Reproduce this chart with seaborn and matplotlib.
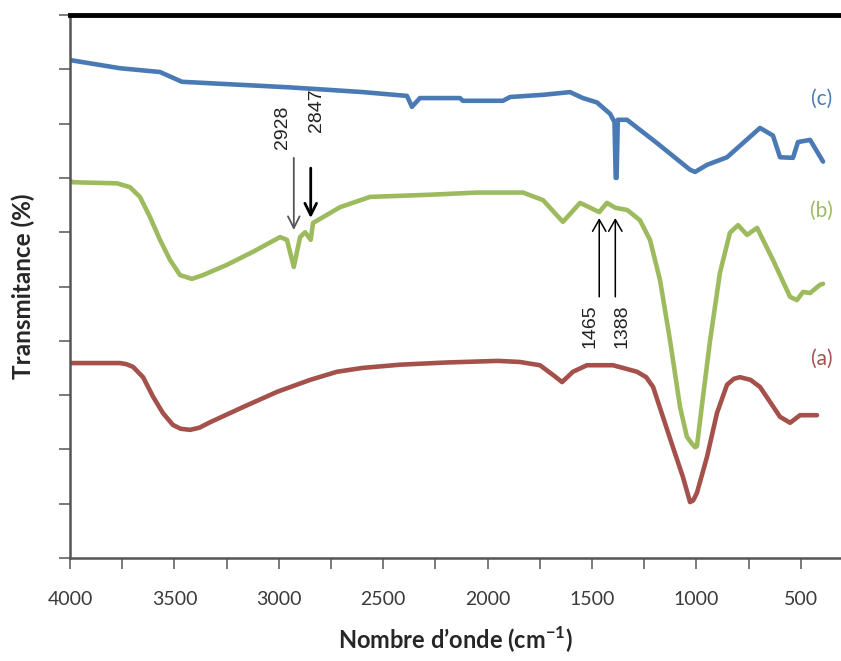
import matplotlib
matplotlib.use("Agg")
import matplotlib.pyplot as plt
import seaborn as sns

# FTIR spectra: wavenumber (cm-1) and transmittance (%), offset for display
wn_a = [4000, 3761, 3730, 3698, 3650, 3602, 3555, 3507, 3470, 3425, 3380, 3329,
        3171, 3008, 2850, 2721, 2600, 2419, 2200, 1950, 1845, 1749, 1686, 1643,
        1610, 1591, 1524, 1399, 1284, 1240, 1207, 1160, 1112, 1064, 1030, 1015,
        997, 949, 901, 853, 820, 791, 740, 695, 599, 551, 503, 422]
t_a = [35.9, 35.9, 35.7, 35.2, 33.3, 29.7, 26.7, 24.5, 23.8, 23.6, 24.0, 25.0,
       27.8, 30.6, 32.8, 34.3, 35.0, 35.6, 36.0, 36.3, 36.1, 35.5, 33.7, 32.4,
       33.6, 34.3, 35.5, 35.5, 34.3, 33.3, 31.5, 26.0, 20.4, 14.9, 10.3, 10.6,
       12.0, 18.6, 26.7, 31.9, 33.0, 33.3, 32.8, 31.5, 26.0, 24.9, 26.3, 26.3]

wn_b = [4000, 3986, 3775, 3713, 3665, 3617, 3569, 3521, 3473, 3416, 3363, 3248,
        3123, 2994, 2961, 2928, 2898, 2874, 2847, 2836, 2769, 2707, 2563, 2276,
        2050, 1830, 1734, 1639, 1557, 1465, 1428, 1388, 1332, 1318, 1270, 1222,
        1174, 1126, 1078, 1045, 1020, 1006, 997, 968, 934, 887, 839, 800, 757,
        709, 633, 551, 518, 489, 455, 408, 393]
t_b = [69.5, 69.2, 69.0, 68.3, 66.5, 62.8, 58.6, 54.9, 52.1, 51.4, 52.1, 54.0,
       56.4, 59.1, 58.6, 53.6, 59.1, 60.0, 58.6, 61.7, 63.2, 64.6, 66.5, 66.9,
       67.3, 67.3, 65.9, 61.9, 65.4, 63.7, 65.4, 64.5, 64.1, 63.7, 62.2, 58.6,
       51.2, 40.1, 27.8, 22.3, 21.0, 20.4, 20.6, 29.7, 40.1, 52.5, 59.9, 61.3,
       59.5, 60.8, 54.9, 48.1, 47.5, 49.0, 48.8, 50.3, 50.5]

wn_c = [4000, 3761, 3569, 3464, 2961, 2755, 2597, 2386, 2362, 2324, 2132, 2118,
        1926, 1892, 1734, 1605, 1543, 1476, 1413, 1392, 1386, 1382, 1376, 1332,
        1188, 1030, 1006, 949, 853, 695, 633, 599, 537, 513, 455, 393]
t_c = [91.7, 90.2, 89.5, 87.7, 86.7, 86.2, 85.8, 85.1, 83.1, 84.7, 84.7, 84.2,
       84.2, 84.9, 85.3, 85.8, 84.7, 83.9, 81.8, 80.3, 70.0, 70.0, 80.7, 80.7,
       76.4, 71.5, 71.1, 72.4, 73.8, 79.2, 77.8, 73.8, 73.7, 76.6, 77.0, 73.0]

series_labels = ["(a)", "(b)", "(c)"]
series_colors = ["#A4514B", "#9DBB5E", "#4A7AB4"]

# band assignments marked with arrows
peaks_down = [2928, 2847]
peaks_up = [1465, 1388]

sns.set_theme(style="white")
plt.rcParams["font.family"] = ["Lato", "DejaVu Sans"]
plt.rcParams["mathtext.fontset"] = "custom"
plt.rcParams["mathtext.rm"] = "Lato"
plt.rcParams["mathtext.bf"] = "Lato:bold"

fig = plt.figure(figsize=(8.41, 6.61), dpi=100)
ax = fig.add_axes([70 / 841, 103 / 661, 771 / 841, 543 / 661])

for wn, t, col in zip([wn_a, wn_b, wn_c], [t_a, t_b, t_c], series_colors):
    sns.lineplot(x=wn, y=t, ax=ax, color=col, lw=3.3, sort=False,
                 estimator=None, solid_joinstyle="round", solid_capstyle="round")

ax.set_xlim(4000, 307)
ax.set_ylim(0, 100)
ax.set_xticks(range(4000, 0, -500))
ax.set_xticks(range(3750, 300, -500), minor=True)
ax.set_yticks(range(0, 101, 10))
ax.set_yticklabels([])
ax.tick_params(axis="x", which="both", direction="out", length=8, width=1.4,
               color="#7a7a7a", labelsize=14, labelcolor="#3a3a3a", pad=16,
               bottom=True)
ax.tick_params(axis="y", direction="out", length=8, width=1.4, color="#7a7a7a",
               left=True)

for side in ("left", "bottom"):
    ax.spines[side].set_color("#555555")
    ax.spines[side].set_linewidth(1.8)
ax.spines["top"].set_color("black")
ax.spines["top"].set_linewidth(3.5)
ax.spines["right"].set_visible(False)

ax.set_xlabel("Nombre d\u2019onde (cm$^{\\mathbf{-1}}$)", fontsize=17,
              fontweight="bold", labelpad=12)
ax.set_ylabel("Transmitance (%)", fontsize=17.5, fontweight="bold", labelpad=14)

# series labels at the right end
for lab, col, y in zip(series_labels, series_colors, [36.6, 63.9, 84.5]):
    ax.text(400, y, lab, color=col, fontsize=15, ha="center", va="center")

# arrows pointing down at C-H stretching bands
arrow_tips = [60.4, 62.6]
arrow_tails = [73.7, 71.8]
text_x = [2980, 2817]
text_y = [79.4, 82.5]
arrow_lw = [1.3, 2.0]
arrow_col = ["#555555", "black"]
for p, tip, tail, tx, ty, lw, ac in zip(peaks_down, arrow_tips, arrow_tails,
                                        text_x, text_y, arrow_lw, arrow_col):
    ax.annotate("", xy=(p, tip), xytext=(p, tail),
                arrowprops=dict(arrowstyle="->,head_length=0.7,head_width=0.35",
                                color=ac, lw=lw, shrinkA=0, shrinkB=0))
    ax.text(tx, ty, str(p), rotation=90, ha="center", va="center",
            fontsize=14, color="#222222", family=["Liberation Sans"])

# arrows pointing up at CH2 / nitrate bands
for p, tx in zip(peaks_up, [1510, 1356]):
    ax.annotate("", xy=(p, 62.6), xytext=(p, 48.1),
                arrowprops=dict(arrowstyle="->,head_length=0.7,head_width=0.4",
                                color="black", lw=1.1, shrinkA=0, shrinkB=0))
    ax.text(tx, 42.7, str(p), rotation=90, ha="center", va="center",
            fontsize=14, color="#222222", family=["Liberation Sans"])

fig.savefig("out.png", dpi=100)
